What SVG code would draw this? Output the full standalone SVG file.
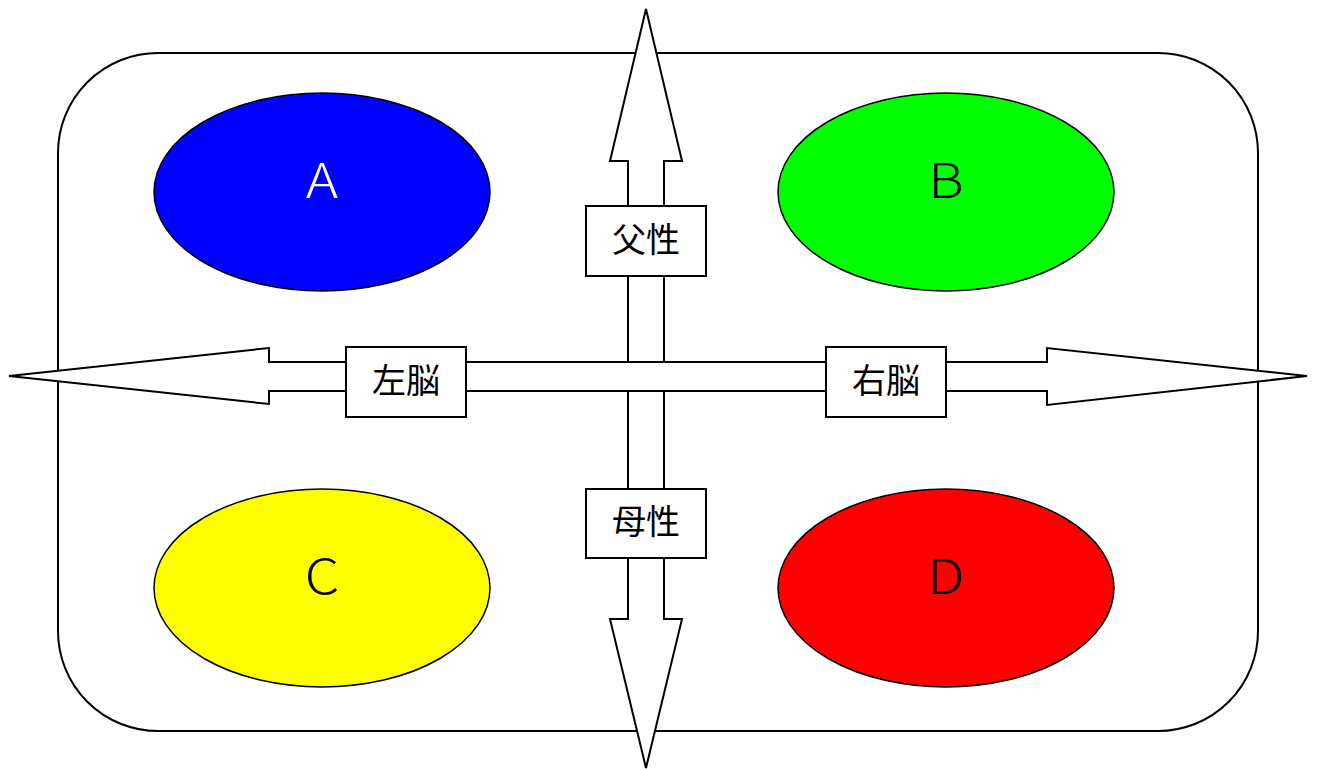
<svg xmlns="http://www.w3.org/2000/svg" width="1317" height="769" viewBox="0 0 1317 769">
<style>
.shape{fill:#fff;stroke:#000;stroke-width:2}
.ell{stroke:#000;stroke-width:1.5}
.big{font-family:"Noto Sans CJK JP","Liberation Sans",sans-serif;font-weight:300;font-size:48px;text-anchor:middle;dominant-baseline:central}
.lbl{font-family:"Noto Sans CJK JP",sans-serif;font-weight:400;font-size:34px;text-anchor:middle;dominant-baseline:central}
</style>
<rect id="frame" class="shape" x="58" y="53" width="1200" height="678" rx="100" ry="100"/>
<g id="A"><ellipse class="ell" cx="322" cy="192" rx="168" ry="99" fill="#0000ff"/><text class="big" x="322" y="177" fill="#fff" transform="translate(322 0) scale(1.15 1) translate(-322 0)">A</text></g>
<g id="B"><ellipse class="ell" cx="946" cy="192" rx="168" ry="99" fill="#00ff00"/><text class="big" x="946" y="177" transform="translate(946 0) scale(1.15 1) translate(-946 0)">B</text></g>
<g id="C"><ellipse class="ell" cx="322" cy="588" rx="168" ry="99" fill="#ffff00"/><text class="big" x="322" y="573" transform="translate(322 0) scale(1.15 1) translate(-322 0)">C</text></g>
<g id="D"><ellipse class="ell" cx="946" cy="588" rx="168" ry="99" fill="#ff0000"/><text class="big" x="946" y="573" transform="translate(946 0) scale(1.15 1) translate(-946 0)">D</text></g>
<g id="connectors">
<polygon class="shape" points="646,9 682,161 664,161 664,619 682,619 646,768 610,619 628,619 628,161 610,161"/>
<polygon class="shape" points="9,376 269,348 269,362 1047,362 1047,348 1307,376 1047,405 1047,391 269,391 269,404"/>
</g>
<g id="father"><rect class="shape" x="586" y="206" width="120" height="70"/><text class="lbl" x="646" y="237">父性</text></g>
<g id="mother"><rect class="shape" x="586" y="489" width="120" height="69"/><text class="lbl" x="646" y="519">母性</text></g>
<g id="leftbrain"><rect class="shape" x="346" y="347" width="120" height="70"/><text class="lbl" x="406" y="378">左脳</text></g>
<g id="rightbrain"><rect class="shape" x="826" y="347" width="120" height="70"/><text class="lbl" x="886" y="378">右脳</text></g>
</svg>
